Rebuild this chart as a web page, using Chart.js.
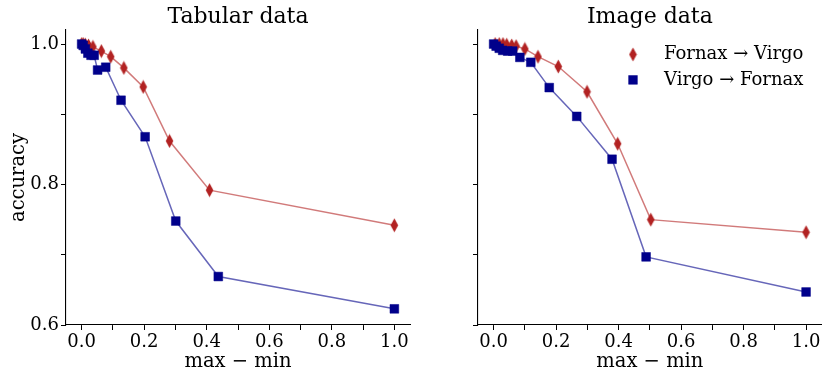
<!DOCTYPE html>
<html>
<head>
<meta charset="utf-8">
<script src="https://cdn.jsdelivr.net/npm/chart.js@4.4.0/dist/chart.umd.min.js"></script>
<style>
  html, body { margin: 0; padding: 0; background: #fff; }
  #wrap { position: relative; width: 830px; height: 381px; }
  #leftBox { position: absolute; left: 0; top: 0; }
  #rightBox { position: absolute; left: 420px; top: 0; }
</style>
</head>
<body>
<div id="wrap">
  <div id="leftBox"><canvas id="tabChart" width="420" height="381"></canvas></div>
  <div id="rightBox"><canvas id="imgChart" width="410" height="381"></canvas></div>
</div>
<script>
// ---- data ----
const tabFvX = [0, 0.005, 0.012, 0.022, 0.036, 0.063, 0.093, 0.135, 0.197, 0.281, 0.409, 1.0];
const tabFvY = [1.0, 1.0, 0.999, 0.998, 0.996, 0.990, 0.982, 0.966, 0.939, 0.862, 0.792, 0.742];
const tabVfX = [0, 0.005, 0.012, 0.02, 0.03, 0.04, 0.051, 0.077, 0.126, 0.203, 0.301, 0.437, 1.0];
const tabVfY = [1.0, 0.998, 0.993, 0.987, 0.984, 0.984, 0.963, 0.967, 0.920, 0.868, 0.748, 0.669, 0.623];

const imgFvX = [0.005, 0.018, 0.03, 0.042, 0.058, 0.072, 0.100, 0.142, 0.207, 0.299, 0.397, 0.503, 1.0];
const imgFvY = [1.0, 1.0, 1.0, 0.999, 0.998, 0.997, 0.993, 0.982, 0.968, 0.932, 0.858, 0.750, 0.732];
const imgVfX = [0, 0.008, 0.018, 0.029, 0.045, 0.061, 0.084, 0.119, 0.178, 0.266, 0.379, 0.488, 1.0];
const imgVfY = [1.0, 0.997, 0.994, 0.991, 0.990, 0.990, 0.981, 0.974, 0.938, 0.897, 0.836, 0.697, 0.647];

const seriesLabels = ['Fornax \u2192 Virgo', 'Virgo \u2192 Fornax'];
const xTicks = [0, 0.1, 0.2, 0.3, 0.4, 0.5, 0.6, 0.7, 0.8, 0.9, 1.0];
const xTickLabels = ['0.0', '', '0.2', '', '0.4', '', '0.6', '', '0.8', '', '1.0'];
const yTicks = [0.6, 0.7, 0.8, 0.9, 1.0];
const yTickLabels = ['0.6', '', '0.8', '', '1.0'];

const FONT = '"DejaVu Serif", "Liberation Serif", serif';
const RED = '#b22222', RED_LINE = 'rgba(178,34,34,0.6)';
const BLUE = '#00008b', BLUE_LINE = 'rgba(0,0,139,0.6)';

// thin diamond marker (matplotlib 'd')
function thinDiamond(color){
  const c = document.createElement('canvas');
  c.width = 9; c.height = 15;
  const g = c.getContext('2d');
  g.fillStyle = color;
  g.beginPath();
  g.moveTo(4.5, 0.5); g.lineTo(8.3, 7.5); g.lineTo(4.5, 14.5); g.lineTo(0.7, 7.5);
  g.closePath();
  g.fill();
  return c;
}
const diamond = thinDiamond(RED);

function toPoints(xs, ys){ return xs.map((x, i) => ({ x: x, y: ys[i] })); }

const cornerLegend = {
  id: 'cornerLegend',
  afterDraw(chart){
    if (!chart.options.plugins.cornerLegend || !chart.options.plugins.cornerLegend.show) return;
    const { ctx, chartArea } = chart;
    const rows = [24.5, 49.9];
    ctx.save();
    ctx.font = '18px ' + FONT;
    ctx.textBaseline = 'middle';
    ctx.textAlign = 'left';
    chart.data.datasets.forEach((ds, i) => {
      const mx = chartArea.left + 155, my = chartArea.top + rows[i];
      ctx.fillStyle = ds.pointBackgroundColor;
      ctx.strokeStyle = ds.pointBorderColor;
      ctx.lineWidth = ds.pointBorderWidth;
      Chart.helpers.drawPoint(ctx, { pointStyle: ds.pointStyle, radius: ds.pointRadius, rotation: 0, borderWidth: ds.pointBorderWidth }, mx, my);
      ctx.fillStyle = '#000';
      ctx.fillText(ds.label, chartArea.left + 186, my);
    });
    ctx.restore();
  }
};

function makeChart(id, title, fvX, fvY, vfX, vfY, opts){
  const ctx = document.getElementById(id).getContext('2d');
  return new Chart(ctx, {
    type: 'line',
    data: {
      datasets: [{
        label: seriesLabels[0],
        data: toPoints(fvX, fvY),
        borderColor: RED_LINE,
        borderWidth: 1.5,
        pointStyle: diamond,
        pointRadius: 5,
        pointBackgroundColor: RED,
        pointBorderColor: RED,
        pointBorderWidth: 0,
        tension: 0,
        order: 1,
        clip: false
      }, {
        label: seriesLabels[1],
        data: toPoints(vfX, vfY),
        borderColor: BLUE_LINE,
        borderWidth: 1.5,
        pointStyle: 'rect',
        pointRadius: 6.2,
        pointBackgroundColor: BLUE,
        pointBorderColor: BLUE,
        pointBorderWidth: 0.5,
        tension: 0,
        order: 0,
        clip: false
      }]
    },
    options: {
      responsive: false,
      animation: false,
      events: [],
      layout: { padding: { left: 0, top: 0, right: opts.padRight, bottom: 0 } },
      plugins: {
        legend: { display: false },
        tooltip: { enabled: false },
        cornerLegend: { show: opts.legend },
        title: {
          display: true,
          text: title,
          fullSize: false,
          color: '#000',
          font: { family: FONT, size: 22, weight: 'normal', lineHeight: 1.0 },
          padding: { top: 6.7, bottom: 1.3 }
        }
      },
      scales: {
        x: {
          type: 'linear',
          min: -0.05,
          max: 1.05,
          afterBuildTicks: s => { s.ticks = xTicks.map(v => ({ value: v })); },
          afterFit: s => { s.height = 56; },
          ticks: {
            autoSkip: false,
            maxRotation: 0,
            padding: 2,
            color: '#000',
            font: { family: FONT, size: 18 },
            callback: (v, i) => xTickLabels[i]
          },
          grid: { drawOnChartArea: false, drawTicks: true, tickLength: 5, color: '#000', lineWidth: 1 },
          border: { display: true, color: '#000', width: 1.1 },
          title: {
            display: true,
            text: 'max \u2212 min',
            color: '#000',
            font: { family: FONT, size: 19.5, lineHeight: 1.2 },
            padding: { top: 0, bottom: 7.5 }
          }
        },
        y: {
          type: 'linear',
          min: 0.6,
          max: 1.02,
          afterBuildTicks: s => { s.ticks = yTicks.map(v => ({ value: v })); },
          afterFit: s => { s.width = opts.yWidth; },
          ticks: {
            autoSkip: false,
            padding: 2,
            color: '#000',
            font: { family: FONT, size: 18 },
            callback: (v, i) => opts.yLabels ? yTickLabels[i] : ''
          },
          grid: { drawOnChartArea: false, drawTicks: true, tickLength: 5, color: '#000', lineWidth: 1 },
          border: { display: true, color: '#000', width: 1.1 },
          title: {
            display: opts.yLabels,
            text: 'accuracy',
            color: '#000',
            font: { family: FONT, size: 19.5, lineHeight: 1.2 },
            padding: { top: 7, bottom: 0 }
          }
        }
      }
    },
    plugins: [cornerLegend]
  });
}

makeChart('tabChart', 'Tabular data', tabFvX, tabFvY, tabVfX, tabVfY, { padRight: 10, yWidth: 66, yLabels: true, legend: false });
makeChart('imgChart', 'Image data', imgFvX, imgFvY, imgVfX, imgVfY, { padRight: 8.3, yWidth: 58, yLabels: false, legend: true });
</script>
</body>
</html>
